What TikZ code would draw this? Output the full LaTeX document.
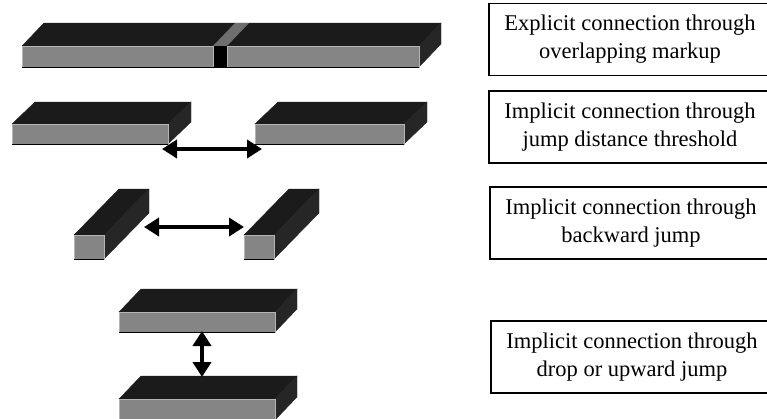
\documentclass[tikz,border=0pt]{standalone}
\usepackage{fontspec}
\setmainfont{Liberation Serif}
\usetikzlibrary{arrows.meta}
\definecolor{topc}{HTML}{1B1B1B}
\definecolor{sidec}{HTML}{262626}
\definecolor{frontc}{HTML}{858585}
\definecolor{edgec}{HTML}{B5B5B5}
\definecolor{stripc}{HTML}{6E6E6E}
\tikzset{
  topface/.style={fill=topc, draw=topc, line width=0.4pt},
  sideface/.style={fill=sidec, draw=sidec, line width=0.4pt},
  frontface/.style={fill=frontc, draw=edgec, line width=0.8pt},
  bigarrow/.style={line width=4.5pt, {Triangle[length=15pt,width=18pt]}-{Triangle[length=15pt,width=18pt]}},
  labelbox/.style={draw=black, line width=1.1pt, minimum width=282pt, minimum height=72pt,
    align=center, inner sep=0pt, font=\fontsize{22.5}{28}\selectfont}
}
% \slabdraw{x1}{x2}{ytop}{ybot}{dx}{dy}{name}
\newcommand\slabdraw[7]{%
  \fill[topface] (#1,#3) -- ++(#5,-#6) -- (#2+#5,#3-#6) -- (#2,#3) -- cycle;
  \fill[sideface] (#2,#3) -- (#2+#5,#3-#6) -- (#2+#5,#4-#6) -- (#2,#4) -- cycle;
  \node[frontface, inner sep=0pt, minimum width={#2-#1}, minimum height={#4-#3}, anchor=north west] (#7) at (#1,#3) {};
  \draw[black, line width=1pt] (#1,#4) -- (#2,#4);
}
\begin{document}
\begin{tikzpicture}[x=1pt, y=-1pt]
\useasboundingbox (0,0) rectangle (767,418);
\clip (0,0) rectangle (767,418);
% Row 1: explicit connection
\slabdraw{22}{419}{46}{67}{22}{23}{r1}
\fill[stripc] (213,46) -- (227,46) -- (249,23) -- (235,23) -- cycle;
\node[fill=black, inner sep=0pt, minimum width=13pt, minimum height=21pt, anchor=north west] (r1gap) at (214,46) {};
\draw[edgec, line width=0.8pt] (213.5,46) -- (213.5,67) (227.5,46) -- (227.5,67);
% Row 2: jump distance threshold
\slabdraw{12}{168}{124}{144}{23}{22}{r2a}
\slabdraw{255}{404}{124}{144}{23}{22}{r2b}
\coordinate (r2s) at (162,149);
\coordinate (r2e) at (262,149);
\draw[bigarrow] (r2s) -- (r2e);
% Row 3: backward jump
\slabdraw{74}{104}{235}{259}{45}{46}{r3a}
\slabdraw{244}{274}{235}{259}{45}{46}{r3b}
\coordinate (r3s) at (144,227);
\coordinate (r3e) at (244,227);
\draw[bigarrow] (r3s) -- (r3e);
% Row 4: drop or upward jump
\slabdraw{119}{275}{312}{332}{22}{23}{r4a}
\slabdraw{119}{275}{399}{420}{22}{23}{r4b}
\coordinate (r4s) at (202,331);
\coordinate (r4e) at (202,377);
\draw[bigarrow] (r4s) -- (r4e);
% Labels
\node[labelbox] (l1) at (630,39.5) {Explicit connection through\\overlapping markup};
\node[labelbox] (l2) at (630,127) {Implicit connection through\\jump distance threshold};
\node[labelbox] (l3) at (631,223) {Implicit connection through\\backward jump};
\node[labelbox] (l4) at (632,357) {Implicit connection through\\drop or upward jump};
\end{tikzpicture}
\end{document}
